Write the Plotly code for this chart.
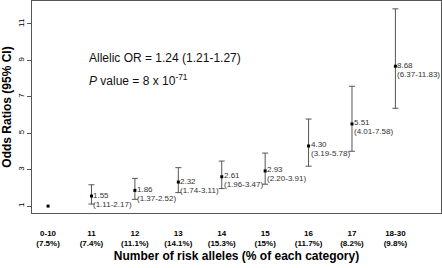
import plotly.graph_objects as go

categories = ["0-10", "11", "12", "13", "14", "15", "16", "17", "18-30"]
percents = ["(7.5%)", "(7.4%)", "(11.1%)", "(14.1%)", "(15.3%)", "(15%)", "(11.7%)", "(8.2%)", "(9.8%)"]
odds_ratio = [1.00, 1.55, 1.86, 2.32, 2.61, 2.93, 4.30, 5.51, 8.68]
ci_low = [None, 1.11, 1.37, 1.74, 1.96, 2.20, 3.19, 4.01, 6.37]
ci_high = [None, 2.17, 2.52, 3.11, 3.47, 3.91, 5.78, 7.58, 11.83]
y_ticks = [1, 3, 5, 7, 9, 11]

xpos = list(range(1, len(categories) + 1))
has_ci = [l is not None for l in ci_low]

font = "Liberation Sans, Arial, Helvetica, sans-serif"

fig = go.Figure()
# reference category (no confidence interval)
fig.add_trace(go.Scatter(
    x=[x for x, c in zip(xpos, has_ci) if not c],
    y=[o for o, c in zip(odds_ratio, has_ci) if not c],
    mode="markers", marker=dict(symbol="square", size=3, color="black"),
    showlegend=False,
))
# categories with confidence intervals
fig.add_trace(go.Scatter(
    x=[x for x, c in zip(xpos, has_ci) if c],
    y=[o for o, c in zip(odds_ratio, has_ci) if c],
    mode="markers",
    marker=dict(symbol="square", size=3, color="black"),
    error_y=dict(type="data", symmetric=False,
                 array=[h - o for h, o, c in zip(ci_high, odds_ratio, has_ci) if c],
                 arrayminus=[o - l for l, o, c in zip(ci_low, odds_ratio, has_ci) if c],
                 color="#555555", thickness=1, width=3),
    showlegend=False,
))

annotations = []
for x, o, l, h in zip(xpos, odds_ratio, ci_low, ci_high):
    if l is None:
        continue
    annotations.append(dict(x=x, y=o, xref="x", yref="y", text=f"{o:.2f}",
                            showarrow=False, xanchor="left", yanchor="middle",
                            xshift=0, yshift=1, font=dict(size=8, color="#333333", family=font)))
    annotations.append(dict(x=x, y=o, xref="x", yref="y", text=f"({l:.2f}-{h:.2f})",
                            showarrow=False, xanchor="left", yanchor="middle",
                            xshift=0, yshift=-8, font=dict(size=8, color="#333333", family=font)))

L, R, T, B = 32, 1, 1, 55
W, H = 442, 268
pw, ph = W - L - R, H - T - B

def px(xp):
    return (xp - L) / pw

def py(yp):
    return 1 - (yp - T) / ph

annotations.append(dict(x=px(87), y=py(58), xref="paper", yref="paper", text="Allelic OR = 1.24 (1.21-1.27)",
                        showarrow=False, xanchor="left", yanchor="middle",
                        font=dict(size=12, color="#111111", family=font)))
annotations.append(dict(x=px(87), y=py(80), xref="paper", yref="paper",
                        text="<i>P</i> value = 8 x 10<sup>-71</sup>",
                        showarrow=False, xanchor="left", yanchor="middle",
                        font=dict(size=12, color="#111111", family=font)))

fig.update_layout(
    width=W, height=H,
    margin=dict(l=L, r=R, t=T, b=B),
    plot_bgcolor="white", paper_bgcolor="white",
    font=dict(family=font, color="black"),
    annotations=annotations,
    xaxis=dict(
        range=[0.63, 10.05],
        tickmode="array", tickvals=xpos,
        ticktext=[f"<b>{c}</b><br><b>{p}</b>" for c, p in zip(categories, percents)],
        tickfont=dict(size=8, family=font),
        ticks="", ticklabelstandoff=12, automargin=False,
        showgrid=False, zeroline=False,
        showline=True, linecolor="#555555", linewidth=1, mirror=True,
        title=dict(text="<b>Number of risk alleles (% of each category)</b>",
                   font=dict(size=12, family=font), standoff=4),
    ),
    yaxis=dict(
        range=[0.62, 12.26],
        tickmode="array", tickvals=y_ticks, ticktext=[str(v) for v in y_ticks],
        tickangle=-90, tickfont=dict(size=8, family=font),
        ticks="outside", ticklen=4, tickcolor="#555555", automargin=False,
        showgrid=False, zeroline=False,
        showline=True, linecolor="#555555", linewidth=1, mirror=True,
        title=dict(text="<b>Odds Ratios (95% CI)</b>", font=dict(size=12, family=font), standoff=2),
    ),
)

fig.write_html("out.html", config={"displayModeBar": False},
               post_script="document.body.style.margin='0';document.body.style.padding='0';")
